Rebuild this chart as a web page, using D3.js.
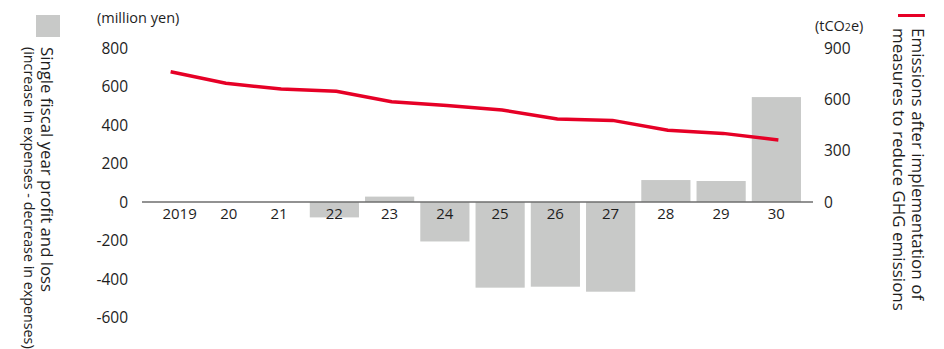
<!DOCTYPE html>
<html>
<head>
<meta charset="utf-8">
<script src="https://cdn.jsdelivr.net/npm/d3@7/dist/d3.min.js"></script>
<style>
  html, body { margin: 0; padding: 0; background: #fff; }
  svg { display: block; font-family: "Open Sans", "Noto Sans", sans-serif; }
</style>
</head>
<body>
<svg id="chart" width="944" height="349"></svg>
<script>
// Fiscal years on the x axis
const years = ["2019", "20", "21", "22", "23", "24", "25", "26", "27", "28", "29", "30"];
// Single fiscal year profit and loss (million yen)
const profitLoss = [0, 0, 0, -80, 28, -205, -445, -440, -466, 114, 109, 545];
// Emissions after implementation of GHG reduction measures (tCO2e)
const emissions = [761, 694, 660, 647, 586, 564, 538, 485, 477, 419, 401, 362];
// Tick labels
const leftTicks = [800, 600, 400, 200, 0, -200, -400, -600];
const rightTicks = [900, 600, 300, 0];

const svg = d3.select("#chart");

const zeroY = 202;
const x = d3.scaleBand().domain(years).range([142, 805]).paddingInner(0.11).paddingOuter(0.055);
const yLeft = d3.scaleLinear().domain([0, 800]).range([zeroY, 48]);
const yRight = d3.scaleLinear().domain([0, 900]).range([zeroY, 48]);
const cx = d => x(d) + x.bandwidth() / 2;

const grey = "#c8c9c8";
const red = "#e60026";
const textCol = "#1e1e1e";

// Bars
svg.append("g").selectAll("rect")
  .data(years.map((y, i) => ({ y, v: profitLoss[i] })).filter(d => d.v !== 0))
  .join("rect")
  .attr("x", d => x(d.y) - 1)
  .attr("width", x.bandwidth())
  .attr("y", d => Math.min(yLeft(d.v), yLeft(0)))
  .attr("height", d => Math.abs(yLeft(d.v) - yLeft(0)))
  .attr("fill", grey);

// Zero baseline
svg.append("line")
  .attr("x1", 142).attr("x2", 813)
  .attr("y1", yLeft(0)).attr("y2", yLeft(0))
  .attr("stroke", "#6e6e6e").attr("stroke-width", 1.5);

// Category labels (the first two sit a little right of their slots)
const labelNudge = i => (i === 0 ? 11 : i === 1 ? 5 : 0);
svg.append("g").selectAll("text")
  .data(years)
  .join("text")
  .attr("x", (d, i) => cx(d) - 1 + labelNudge(i))
  .attr("y", 219)
  .attr("text-anchor", "middle")
  .attr("font-size", 15)
  .attr("fill", textCol)
  .text(d => d);

// Emissions line
const line = d3.line()
  .x((d, i) => cx(years[i]) + 1)
  .y(d => yRight(d));
svg.append("path")
  .datum(emissions)
  .attr("d", line)
  .attr("fill", "none")
  .attr("stroke", red)
  .attr("stroke-width", 3.5);

// Left axis labels
svg.append("g").selectAll("text")
  .data(leftTicks)
  .join("text")
  .attr("x", 128)
  .attr("y", d => yLeft(d) + 5.5)
  .attr("text-anchor", "end")
  .attr("font-size", 15.5)
  .attr("fill", textCol)
  .text(d => d);

// Right axis labels
svg.append("g").selectAll("text")
  .data(rightTicks)
  .join("text")
  .attr("x", 824)
  .attr("y", d => yRight(d) + 5.5)
  .attr("text-anchor", "start")
  .attr("font-size", 15.5)
  .attr("fill", textCol)
  .text(d => d);

// Units
svg.append("text")
  .attr("x", 97).attr("y", 23)
  .attr("font-size", 14.5).attr("fill", textCol)
  .text("(million yen)");
const unitR = svg.append("text")
  .attr("x", 815).attr("y", 31)
  .attr("font-size", 14.5).attr("fill", textCol);
unitR.append("tspan").text("(tCO");
unitR.append("tspan").attr("font-size", 10.5).text("2");
unitR.append("tspan").text("e)");

// Left legend
svg.append("rect")
  .attr("x", 36).attr("y", 15).attr("width", 24).attr("height", 22)
  .attr("fill", grey);
svg.append("text")
  .attr("transform", "translate(41,47) rotate(90)")
  .attr("font-size", 16.8).attr("fill", textCol)
  .text("Single fiscal year profit and loss");
svg.append("text")
  .attr("transform", "translate(24,47) rotate(90)")
  .attr("font-size", 14.3).attr("fill", textCol)
  .text("(increase in expenses - decrease in expenses)");

// Right legend
svg.append("rect")
  .attr("x", 898).attr("y", 14).attr("width", 27).attr("height", 3)
  .attr("fill", red);
svg.append("text")
  .attr("transform", "translate(912,28) rotate(90)")
  .attr("font-size", 17).attr("fill", textCol)
  .text("Emissions after implementation of");
svg.append("text")
  .attr("transform", "translate(893,28) rotate(90)")
  .attr("font-size", 17).attr("fill", textCol)
  .text("measures to reduce GHG emissions");
</script>
</body>
</html>
